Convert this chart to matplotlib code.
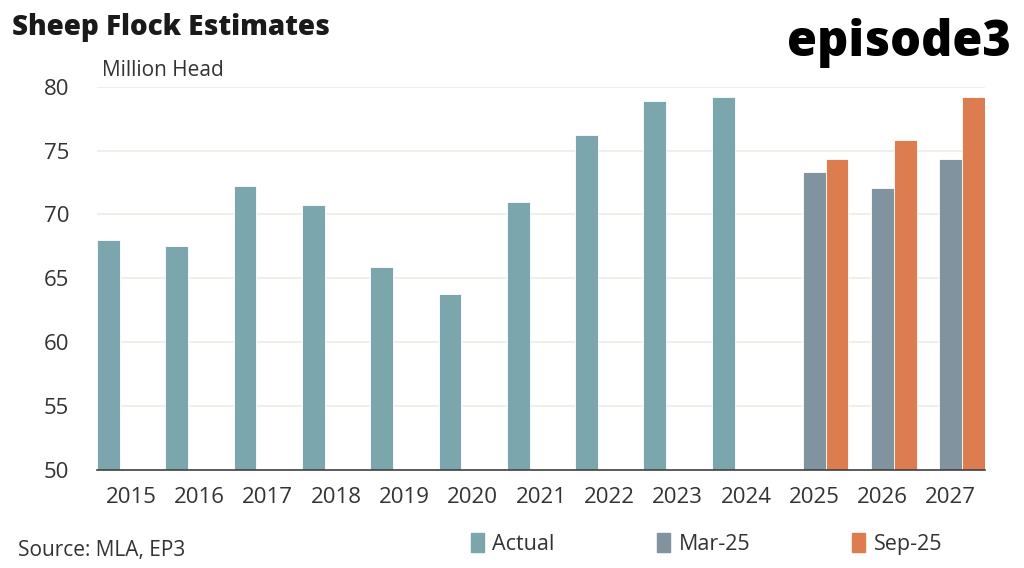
import matplotlib.pyplot as plt
import numpy as np
from matplotlib.patches import Patch

plt.rcParams['font.family'] = ['Open Sans', 'DejaVu Sans']

# data (million head)
years = ['2015', '2016', '2017', '2018', '2019', '2020', '2021',
         '2022', '2023', '2024', '2025', '2026', '2027']
actual = [68.0, 67.5, 72.2, 70.7, 65.9, 63.8, 71.0, 76.2, 78.9, 79.2,
          np.nan, np.nan, np.nan]
mar25 = [np.nan] * 10 + [73.3, 72.1, 74.3]
sep25 = [np.nan] * 10 + [74.3, 75.8, 79.2]

c_act = '#7BA6AD'
c_mar = '#80939E'
c_sep = '#DD7D4F'

fig = plt.figure(figsize=(10.24, 5.68), dpi=100)
ax = fig.add_axes([0.0947, 0.1725, 0.8672, 0.675])

x = np.arange(len(years))
w = 1 / 3
ax.bar(x - w, actual, w, align='center', color=c_act, edgecolor='white', linewidth=0.6, zorder=3)
ax.bar(x, mar25, w, align='center', color=c_mar, edgecolor='white', linewidth=0.6, zorder=3)
ax.bar(x + w, sep25, w, align='center', color=c_sep, edgecolor='white', linewidth=0.6, zorder=3)

ax.set_xlim(-0.5, len(years) - 0.5)
ax.set_ylim(50, 80)
ax.set_yticks(np.arange(50, 81, 5))
ax.set_xticks(x)
ax.set_xticklabels(years)
ax.grid(axis='y', color='#ECECE4', linewidth=1.2, zorder=0)
ax.set_axisbelow(True)
for s in ['top', 'right', 'left']:
    ax.spines[s].set_visible(False)
ax.spines['bottom'].set_color('#404040')
ax.spines['bottom'].set_linewidth(1.2)
ax.spines['bottom'].set_zorder(4)
ax.tick_params(axis='both', length=0, labelsize=16, colors='#333333')
ax.tick_params(axis='x', pad=12)
ax.tick_params(axis='y', pad=20)

fig.text(0.012, 0.952, 'Sheep Flock Estimates', fontsize=20, fontweight='heavy',
         color='#1a1a1a', va='center')
fig.text(0.1, 0.876, 'Million Head', fontsize=15, color='#333333', va='center')
fig.text(0.987, 0.925, 'episode3', fontsize=35, fontweight='heavy',
         color='black', ha='right', va='center')
fig.text(0.018, 0.03, 'Source: MLA, EP3', fontsize=15, color='#333333', va='center')

handles = [Patch(color=c_act, label='Actual'),
           Patch(color=c_mar, label='Mar-25'),
           Patch(color=c_sep, label='Sep-25')]
fig.legend(handles=handles, loc='center', bbox_to_anchor=(0.69, 0.043), ncol=3,
           frameon=False, fontsize=15.5, handlelength=0.6, handleheight=1.0,
           handletextpad=0.4, columnspacing=4.75, labelcolor='#333333')

fig.savefig('out.png', dpi=100)
